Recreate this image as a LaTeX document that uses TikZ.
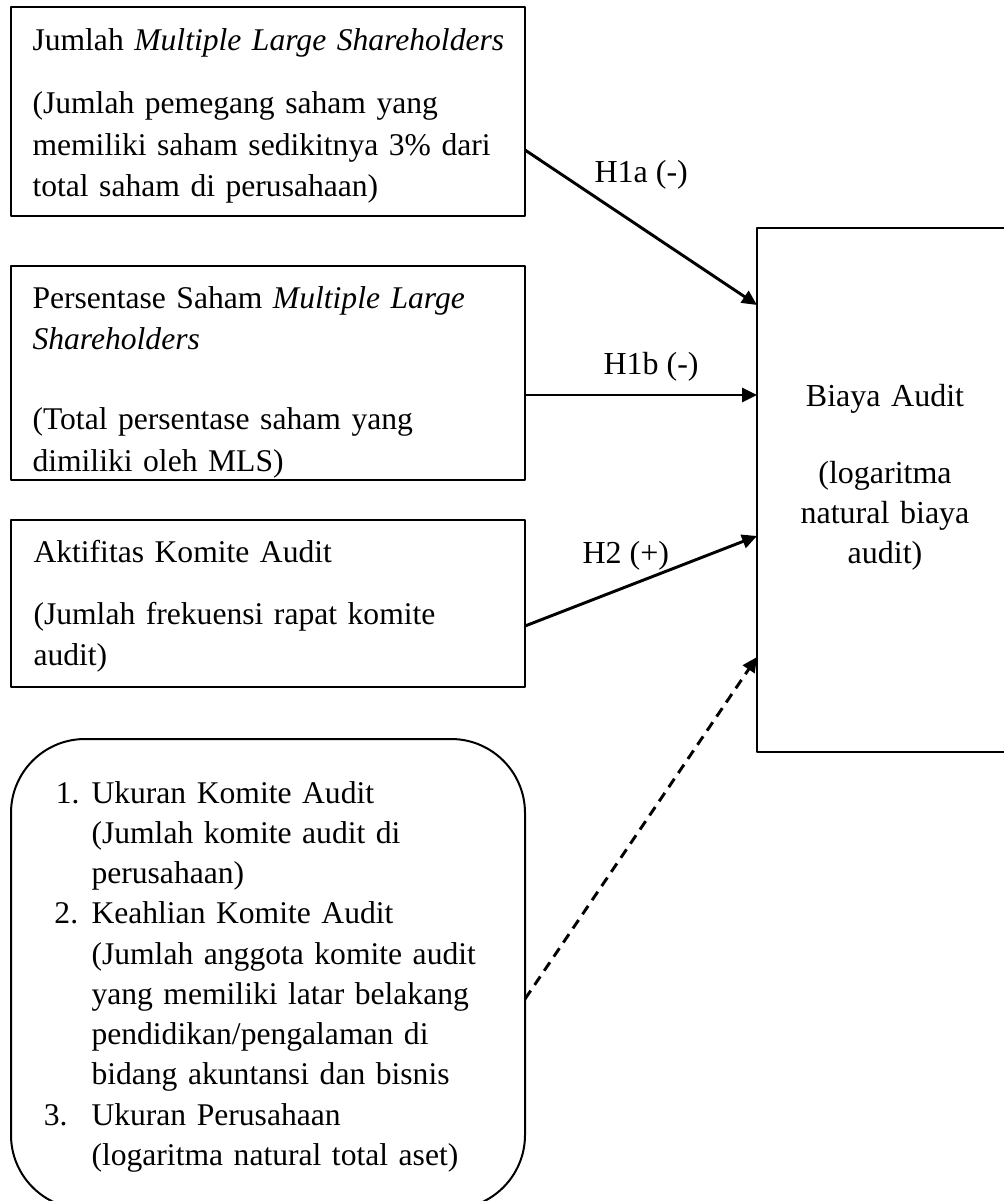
\documentclass[tikz,border=0pt]{standalone}
\usepackage{fontspec}
\setmainfont{Liberation Serif}
\usetikzlibrary{arrows.meta,calc,positioning}

\begin{document}
\begin{tikzpicture}[x=0.375pt,y=-0.375pt, line join=round,
    >={Triangle[length=5.6pt,width=5.2pt]},
    varbox/.style={draw,line width=0.75pt,inner sep=0pt,outer sep=0pt,anchor=north west},
    vartext/.style={anchor=base west,inner sep=0pt,text width=186pt,align=left,
        font=\fontsize{11.85pt}{15.5pt}\selectfont},
    hyplink/.style={->,line width=1.1pt},
    hyplabel/.style={anchor=base west,inner sep=0pt,font=\fontsize{12pt}{14pt}\selectfont}]
    % frame
    \useasboundingbox (0,0) rectangle (1003,1201);
    % independent variables
    \node[varbox,minimum width=192.75pt,minimum height=78.375pt] (mls) at (11,7) {};
    \node[varbox,minimum width=192.75pt,minimum height=80.25pt] (pct) at (11,266) {};
    \node[varbox,minimum width=192.75pt,minimum height=62.625pt] (akt) at (11,520) {};
    % dependent variable
    \node[varbox,minimum width=96pt,minimum height=196.5pt] (fee) at (757,228) {};
    % control variables
    \node[varbox,rounded corners=27.75pt,minimum width=192.75pt,minimum height=176.25pt] (ctrl) at (11,739) {};
    % texts
    \node[vartext] (mlstext) at ($(mls.north west)+(21,44)$)
        {Jumlah \textit{Multiple Large Shareholders}\\[8.1pt]
         (Jumlah pemegang saham yang\\ memiliki saham sedikitnya 3\% dari\\ total saham di perusahaan)};
    \node[vartext] (pcttext) at ($(pct.north west)+(21,42)$)
        {Persentase Saham \textit{Multiple Large}\\ \textit{Shareholders}\\[14.7pt]
         (Total persentase saham yang\\ dimiliki oleh MLS)};
    \node[vartext] (akttext) at ($(akt.north west)+(22,42)$)
        {Aktifitas Komite Audit\\[7.8pt]
         (Jumlah frekuensi rapat komite\\ audit)};
    \node[anchor=base,inner sep=0pt,text width=90pt,align=center,
        font=\fontsize{12pt}{15pt}\selectfont] (feetext) at ($(fee.north west)+(128,178)$)
        {Biaya Audit\\[13.9pt] (logaritma\\ natural biaya\\ audit)};
    \node[vartext,font=\fontsize{11.85pt}{15.1pt}\selectfont] (ctrltext) at ($(ctrl.north west)+(80,64)$)
        {\leavevmode\llap{1.\hskip4.5pt}Ukuran Komite Audit\\ (Jumlah komite audit di\\ perusahaan)\\
         \leavevmode\llap{2.\hskip5pt}Keahlian Komite Audit\\ (Jumlah anggota komite audit\\
         yang memiliki latar belakang\\ pendidikan/pengalaman di\\ bidang akuntansi dan bisnis\\
         \leavevmode\llap{3.\hskip9pt}Ukuran Perusahaan\\ (logaritma natural total aset)};
    % hypotheses
    \draw[hyplink] ($(mls.north east)+(0,143)$) -- ($(fee.north west)+(0,77)$);
    \draw[hyplink] ($(pct.north east)+(0,129)$) -- ($(fee.north west)+(0,167)$);
    \draw[hyplink] ($(akt.north east)+(0,106)$) -- ($(fee.north west)+(0,308)$);
    \draw[hyplink,dash pattern=on 3.8pt off 2.6pt] ($(ctrl.north east)+(0,260)$) -- ($(fee.north west)+(0,429)$);
    \node[hyplabel] (h1a) at (594,183) {H1a (-)};
    \node[hyplabel] (h1b) at (603,374) {H1b (-)};
    \node[hyplabel] (h2) at (582,563) {H2 (+)};
\end{tikzpicture}
\end{document}
